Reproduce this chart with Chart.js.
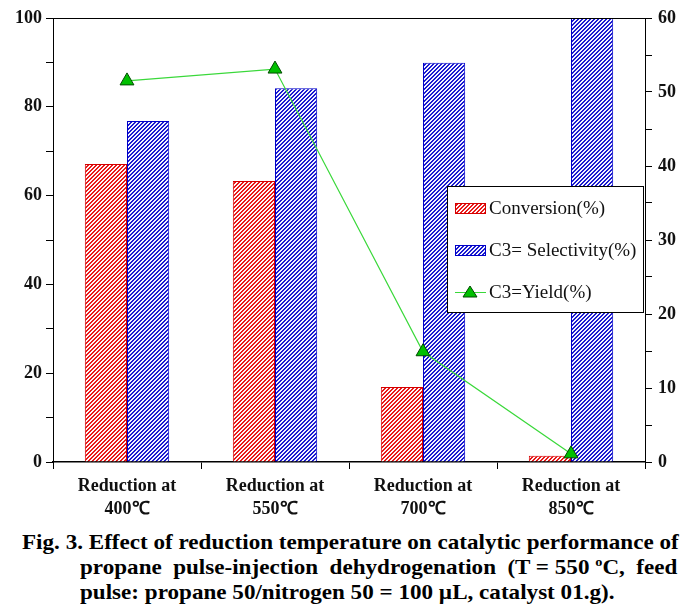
<!DOCTYPE html>
<html>
<head>
<meta charset="utf-8">
<script src="https://cdn.jsdelivr.net/npm/chart.js@4/dist/chart.umd.min.js"></script>
<style>
  body { margin: 0; background: #fff; }
  #wrap { position: absolute; left: 0; top: 0; width: 699px; height: 525px; }
  .cap { position: absolute; font-family: "Liberation Serif", "Times New Roman", serif; font-weight: bold; font-size: 21px; line-height: 25px; color: #000; white-space: nowrap; transform: scaleX(1.1); transform-origin: 0 0; }
  .flex { display: flex; justify-content: space-between; }
</style>
</head>
<body>
<div id="wrap"><canvas id="chart" width="699" height="525"></canvas></div>
<div class="cap" style="left:22px; top:530px;">Fig. 3. Effect of reduction temperature on catalytic performance of</div>
<div class="cap flex" style="left:80px; top:555px; width:543px;">
  <span>propane</span><span>pulse-injection</span><span>dehydrogenation</span><span>(T = 550 <sup style="font-size:13px;vertical-align:8px;line-height:0">o</sup>C,</span><span>feed</span>
</div>
<div class="cap" style="left:80px; top:580px;">pulse: propane 50/nitrogen 50 = 100 µL, catalyst 01.g).</div>
<script>
  const categories = [["Reduction at", "400℃"], ["Reduction at", "550℃"], ["Reduction at", "700℃"], ["Reduction at", "850℃"]];
  const conversion = [67.1, 63.3, 16.9, 1.4];
  const selectivity = [76.8, 84.2, 89.9, 100];
  const yieldVals = [51.5, 53.1, 14.9, 1.1];
  const leftTicks = [0, 20, 40, 60, 80, 100];
  const rightTicks = [0, 10, 20, 30, 40, 50, 60];

  // штрихування для стовпців
  function hatch(dark, light) {
    const c = document.createElement("canvas");
    c.width = 4; c.height = 4;
    const g = c.getContext("2d");
    for (let x = 0; x < 4; x++) {
      for (let y = 0; y < 4; y++) {
        g.fillStyle = ((x + y) % 4 < 2) ? dark : light;
        g.fillRect(x, y, 1, 1);
      }
    }
    return g.createPattern(c, "repeat");
  }

  const serif = "'Liberation Serif', 'Times New Roman', serif";

  const frame = {
    id: "frame",
    afterDatasetsDraw(chart) {
      const { ctx, chartArea: a } = chart;
      ctx.save();
      ctx.strokeStyle = "#000";
      ctx.lineWidth = 1;
      ctx.beginPath();
      ctx.moveTo(a.left, a.top + 0.5);
      ctx.lineTo(a.right, a.top + 0.5);
      ctx.stroke();
      ctx.restore();
    },
    afterDraw(chart) {
      // легенда всередині області графіка
      const { ctx } = chart;
      const x0 = 447, y0 = 186, w = 196, h = 126;
      ctx.save();
      ctx.fillStyle = "#fff";
      ctx.fillRect(x0, y0, w, h);
      ctx.strokeStyle = "#000";
      ctx.lineWidth = 1;
      ctx.strokeRect(x0 + 0.5, y0 + 0.5, w, h);
      ctx.font = "19px " + serif;
      ctx.textBaseline = "middle";
      const rows = [208, 250, 292];
      chart.data.datasets.forEach((ds, i) => {
        const y = rows[i];
        if (ds.type === "line") {
          ctx.strokeStyle = ds.borderColor;
          ctx.beginPath();
          ctx.moveTo(455, y + 0.5);
          ctx.lineTo(486, y + 0.5);
          ctx.stroke();
          ctx.fillStyle = ds.pointBackgroundColor;
          ctx.strokeStyle = ds.pointBorderColor;
          ctx.beginPath();
          ctx.moveTo(470, y - 6);
          ctx.lineTo(477, y + 5);
          ctx.lineTo(463, y + 5);
          ctx.closePath();
          ctx.fill();
          ctx.stroke();
        } else {
          ctx.fillStyle = ds.backgroundColor;
          ctx.fillRect(455, y - 5, 31, 10);
          ctx.strokeStyle = ds.borderColor;
          ctx.strokeRect(455.5, y - 4.5, 30, 10);
        }
        ctx.fillStyle = "#111";
        ctx.fillText(ds.label, 489, y + 1);
      });
      ctx.restore();
    }
  };

  const tickFont = { family: serif, size: 18, weight: "bold" };

  new Chart(document.getElementById("chart"), {
    data: {
      labels: categories,
      datasets: [
        {
          type: "bar", label: "Conversion(%)", data: conversion, yAxisID: "y",
          backgroundColor: hatch("#e81818", "#fff4f4"), borderColor: "#d40000", borderWidth: 1,
          barPercentage: 1, categoryPercentage: 0.57, order: 2
        },
        {
          type: "bar", label: "C3= Selectivity(%)", data: selectivity, yAxisID: "y",
          backgroundColor: hatch("#1a1ad0", "#f2f2ff"), borderColor: "#0000c8", borderWidth: 1,
          barPercentage: 1, categoryPercentage: 0.57, order: 2
        },
        {
          type: "line", label: "C3=Yield(%)", data: yieldVals, yAxisID: "y1",
          borderColor: "#3ad83a", borderWidth: 1.2, pointStyle: "triangle", pointRadius: 8,
          pointBackgroundColor: "#00c000", pointBorderColor: "#004a00", pointBorderWidth: 1,
          order: 0
        }
      ]
    },
    options: {
      responsive: false,
      animation: false,
      layout: { padding: { top: 18 } },
      plugins: { legend: { display: false }, tooltip: { enabled: false } },
      scales: {
        x: {
          grid: { display: true, drawOnChartArea: false, offset: true, tickLength: 7, color: "#000" },
          border: { color: "#000", width: 1.5 },
          ticks: { color: "#111", font: { family: serif, size: 18, weight: "bold", lineHeight: 1.28 }, padding: 6, maxRotation: 0 },
          afterFit(s) { s.height = 63; }
        },
        y: {
          position: "left", min: 0, max: 100,
          grid: { drawOnChartArea: false, tickLength: 7, color: "#000" },
          border: { color: "#000" },
          ticks: {
            stepSize: 10, color: "#111", font: tickFont, padding: 4,
            callback: v => leftTicks.includes(v) ? v : ""
          },
          afterFit(s) { s.width = 53; }
        },
        y1: {
          position: "right", min: 0, max: 60,
          grid: { drawOnChartArea: false, tickLength: 7, color: "#000" },
          border: { color: "#000" },
          ticks: {
            stepSize: 5, color: "#111", font: tickFont, padding: 6,
            callback: v => rightTicks.includes(v) ? v : ""
          },
          afterFit(s) { s.width = 54; }
        }
      }
    },
    plugins: [frame]
  });
</script>
</body>
</html>
